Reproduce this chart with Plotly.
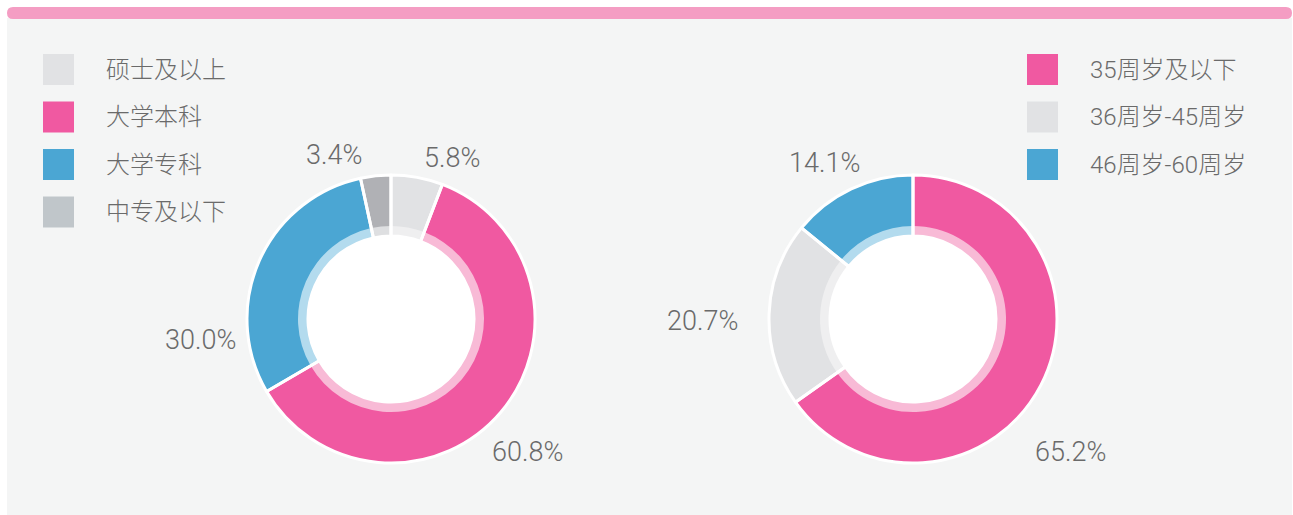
import plotly.graph_objects as go

W, H = 1293, 515

# ---------------- data ----------------
edu_labels = ["硕士及以上", "大学本科", "大学专科", "中专及以下"]
edu_values = [5.8, 60.8, 30.0, 3.4]
edu_colors = ["#e1e2e4", "#f059a1", "#4ba6d3", "#b0b1b5"]
edu_inner_colors = ["#efeff0", "#f8bad6", "#b3dbee", "#dedfe1"]
edu_legend_colors = ["#e1e2e4", "#f059a1", "#4ba6d3", "#c0c6ca"]

age_labels = ["35周岁及以下", "36周岁-45周岁", "46周岁-60周岁"]
age_values = [65.2, 20.7, 14.1]
age_colors = ["#f059a1", "#e1e2e4", "#4ba6d3"]
age_inner_colors = ["#f8bad6", "#efeff0", "#b3dbee"]

# label positions (pixels) for percentage texts
edu_label_pos = [(452, 158), (527, 452), (200, 340), (334, 155)]
age_label_pos = [(1070, 452), (702, 321), (824, 163)]

# ---------------- layout helpers ----------------
def px_dom(cx, cy, r):
    return dict(x=[(cx - r) / W, (cx + r) / W],
                y=[(H - (cy + r)) / H, (H - (cy - r)) / H])

TXT = "#6a6a6a"
NUMFONT = "Roboto, 'Noto Sans CJK SC', sans-serif"
CJKFONT = "Roboto, 'Noto Sans CJK SC', sans-serif"

fig = go.Figure()

R_OUT, R_MID, R_HOLE = 144, 93, 83

shapes = []
annotations = []

def add_donut(cx, cy, labels, values, colors, inner_colors):
    # white centre
    shapes.append(dict(type="circle", xref="paper", yref="paper", layer="below",
                       x0=(cx - R_MID) / W, x1=(cx + R_MID) / W,
                       y0=(H - (cy + R_MID)) / H, y1=(H - (cy - R_MID)) / H,
                       fillcolor="white", line=dict(width=0)))
    common = dict(labels=labels, values=values, sort=False, direction="clockwise",
                  rotation=0, textinfo="none", showlegend=False)
    fig.add_trace(go.Pie(hole=(R_MID - 1) / R_OUT, domain=px_dom(cx, cy, R_OUT),
                         marker=dict(colors=colors, line=dict(width=0)),
                         hoverinfo="skip", **common))
    fig.add_trace(go.Pie(hole=R_HOLE / R_MID, domain=px_dom(cx, cy, R_MID),
                         marker=dict(colors=inner_colors, line=dict(width=0)),
                         hoverinfo="skip", **common))
    fig.add_trace(go.Pie(hole=R_HOLE / R_OUT, domain=px_dom(cx, cy, R_OUT),
                         marker=dict(colors=["rgba(0,0,0,0)"] * len(values),
                                     line=dict(color="white", width=3)),
                         hoverinfo="label+percent", **common))

add_donut(391, 319, edu_labels, edu_values, edu_colors, edu_inner_colors)
add_donut(913, 319, age_labels, age_values, age_colors, age_inner_colors)

# background panel (first, so it stays beneath)
shapes.insert(0, dict(type="rect", xref="paper", yref="paper", layer="below",
                      x0=7 / W, x1=1292 / W, y0=0, y1=(H - 18) / H,
                      fillcolor="#f4f5f5", line=dict(width=0)))

def pp(x, y):
    return f"{x / W},{(H - y) / H}"

# pink top bar with rounded ends
x0, x1, y0, y1, rr = 7, 1292, 7, 19, 6
path = (f"M {pp(x0+rr,y0)} L {pp(x1-rr,y0)} Q {pp(x1,y0)} {pp(x1,y0+rr)} "
        f"Q {pp(x1,y1)} {pp(x1-rr,y1)} L {pp(x0+rr,y1)} Q {pp(x0,y1)} {pp(x0,y0+rr)} "
        f"Q {pp(x0,y0)} {pp(x0+rr,y0)} Z")
shapes.append(dict(type="path", xref="paper", yref="paper", path=path,
                   fillcolor="#f49dc3", line=dict(width=0)))

# legends
def legend(x_sq, x_txt, y_start, labels, colors):
    step = 47.5
    for i, (lab, col) in enumerate(zip(labels, colors)):
        cy = y_start + i * step
        shapes.append(dict(type="rect", xref="paper", yref="paper",
                           x0=x_sq / W, x1=(x_sq + 31) / W,
                           y0=(H - (cy + 15.5)) / H, y1=(H - (cy - 15.5)) / H,
                           fillcolor=col, line=dict(width=0)))
        annotations.append(dict(xref="paper", yref="paper", x=x_txt / W, y=(H - cy) / H,
                                text=lab, showarrow=False, xanchor="left", yanchor="middle",
                                font=dict(family=CJKFONT, size=24, color=TXT, weight=300)))

legend(43, 104, 69.5, edu_labels, edu_legend_colors)
legend(1027, 1088, 69.5, age_labels, age_colors)

# percentage labels
for vals, pos in ((edu_values, edu_label_pos), (age_values, age_label_pos)):
    for v, (lx, ly) in zip(vals, pos):
        annotations.append(dict(xref="paper", yref="paper", x=lx / W, y=(H - ly) / H,
                                text=f"{v:.1f}%", showarrow=False,
                                xanchor="center", yanchor="middle",
                                font=dict(family=NUMFONT, size=27, color=TXT, weight=300)))

fig.update_layout(
    width=W, height=H, margin=dict(l=0, r=0, t=0, b=0),
    paper_bgcolor="white", plot_bgcolor="white",
    shapes=shapes, annotations=annotations, showlegend=False,
)

fig.write_html("out.html", config={"displayModeBar": False},
               post_script="document.body.style.margin='0px';")
